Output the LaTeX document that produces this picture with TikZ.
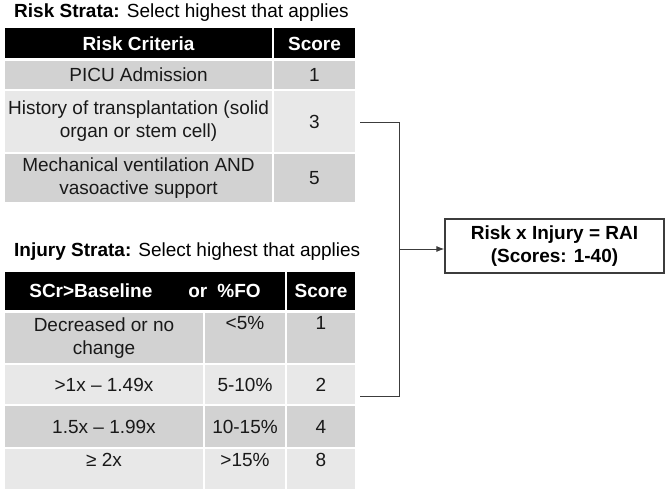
\documentclass[tikz,border=0pt]{standalone}
\usepackage{fontspec}
\setmainfont{Liberation Sans}
\usetikzlibrary{arrows.meta,calc}
\definecolor{cellA}{HTML}{D2D2D2}
\definecolor{cellB}{HTML}{E8E8E8}
\definecolor{wire}{HTML}{3C3C3C}
\newcommand{\cellfont}{\fontsize{19}{23}\selectfont}

\begin{document}
\begin{tikzpicture}[
    x=1pt, y=-1pt,
    every node/.style={inner sep=0pt, font=\cellfont, align=center},
    head/.style={rectangle, fill=black, text=white, font=\cellfont\bfseries},
    dark/.style={rectangle, fill=cellA, text=black!90},
    light/.style={rectangle, fill=cellB, text=black!90},
    wire/.style={draw=wire, line width=1pt},
    result/.style={rectangle, draw=wire, line width=1.2pt, fill=white, minimum width=219pt, minimum height=54pt, font=\cellfont\bfseries}
]
    \useasboundingbox (0,0) rectangle (666,492);

    % risk strata
    \node[anchor=west] (risktitle) at (14,13) {\textbf{Risk Strata:} Select highest that applies};
    \node[head, minimum width=267pt, minimum height=30pt] (rh1) at (138.5,43.5) {Risk Criteria};
    \node[head, minimum width=81pt, minimum height=30pt] (rh2) at (314.5,43.5) {Score};

    \node[dark, minimum width=267pt, minimum height=28pt] (r1c) at (138.5,75) {PICU Admission};
    \node[dark, minimum width=81pt, minimum height=28pt] (r1s) at (314.5,75) {1};
    \node[light, minimum width=267pt, minimum height=60pt] (r2c) at (138.5,121.5) {History of transplantation (solid\\organ or stem cell)};
    \node[light, minimum width=81pt, minimum height=60pt] (r2s) at (314.5,121.5) {3};
    \node[dark, minimum width=267pt, minimum height=48pt] (r3c) at (138.5,178) {Mechanical ventilation AND\\vasoactive support};
    \node[dark, minimum width=81pt, minimum height=48pt] (r3s) at (314.5,178) {5};

    % injury strata
    \node[anchor=west] (injtitle) at (14,252) {\textbf{Injury Strata:} Select highest that applies};
    \node[head, minimum width=280pt, minimum height=38pt] (ih1) at (145,291) {SCr>Baseline\hspace{36pt}or\hspace{10pt}\%FO};
    \node[head, minimum width=68pt, minimum height=38pt] (ih2) at (321,291) {Score};

    \node[dark, minimum width=198pt, minimum height=50pt] (i1c) at (104,338) {Decreased or no\\change};
    \node[dark, minimum width=80pt, minimum height=50pt] (i1f) at (245,338) {<5\%\\\strut};
    \node[dark, minimum width=68pt, minimum height=50pt] (i1s) at (321,338) {1\\\strut};
    \node[light, minimum width=198pt, minimum height=39pt] (i2c) at (104,384.5) {>1x – 1.49x};
    \node[light, minimum width=80pt, minimum height=39pt] (i2f) at (245,384.5) {5-10\%};
    \node[light, minimum width=68pt, minimum height=39pt] (i2s) at (321,384.5) {2};
    \node[dark, minimum width=198pt, minimum height=41pt] (i3c) at (104,426.5) {1.5x – 1.99x};
    \node[dark, minimum width=80pt, minimum height=41pt] (i3f) at (245,426.5) {10-15\%};
    \node[dark, minimum width=68pt, minimum height=41pt] (i3s) at (321,426.5) {4};
    \node[light, minimum width=198pt, minimum height=40pt, text depth=18pt] (i4c) at (104,469) {≥ 2x};
    \node[light, minimum width=80pt, minimum height=40pt, text depth=18pt] (i4f) at (245,469) {>15\%};
    \node[light, minimum width=68pt, minimum height=40pt, text depth=18pt] (i4s) at (321,469) {8};

    % result
    \node[result] (rai) at (554.5,246) {Risk x Injury = RAI\\(Scores: 1-40)};

    \coordinate (join) at (399,249);
    \draw[wire] ([shift={(5,1.5)}]r2s.east) -| (join);
    \draw[wire] ([shift={(5,12)}]i2s.east) -| (join);
    \draw[wire, -{Latex[length=8pt,width=6pt]}] (join) -- (join -| rai.west);
\end{tikzpicture}
\end{document}
